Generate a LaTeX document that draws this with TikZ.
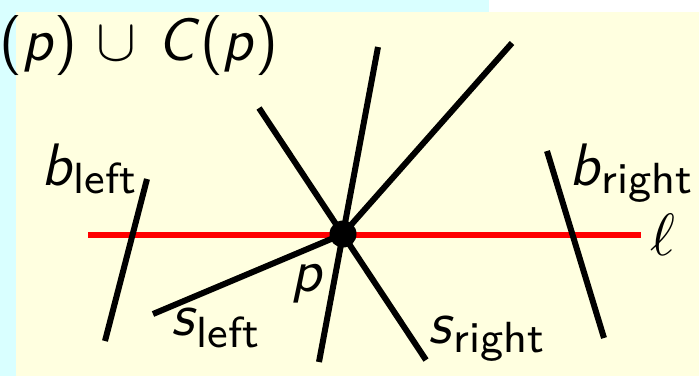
\documentclass[tikz,border=0pt]{standalone}
\usepackage{graphicx}
\usepackage{fontspec}
\definecolor{bgcyan}{RGB}{217,255,255}
\definecolor{bgyellow}{RGB}{255,255,224}
\definecolor{lred}{RGB}{255,0,0}
\newcommand\scl[1]{\scalebox{5.45}{#1}}
\newcommand\mainf{\fontsize{11}{13}\selectfont\sffamily}
\newcommand\subf{\fontsize{8}{9}\selectfont\sffamily\upshape}
\newcommand\subtxt[2]{\raisebox{-#1pt}{\subf #2}}
\tikzset{
  lbl/.style={inner sep=0pt, anchor=base west},
  seg/.style={line width=6pt, line cap=butt, black},
}
\begin{document}
\begin{tikzpicture}[x=1pt,y=-1pt]
\useasboundingbox (0,0) rectangle (699,376);
\fill[bgcyan] (0,0) rectangle (489,12);
\fill[white] (489,0) rectangle (699,12);
\fill[bgcyan] (0,12) rectangle (16,376);
\fill[bgyellow] (16,12) rectangle (699,376);
% coordinates
\coordinate (p) at (343,234);
\coordinate (la) at (88,235);
\coordinate (lb) at (641,235);
\coordinate (a1) at (259,108);
\coordinate (a2) at (426,360);
\coordinate (b1) at (378,47);
\coordinate (b2) at (319,362);
\coordinate (c1) at (512,43);
\coordinate (sl) at (153,314);
\coordinate (bl1) at (147,179);
\coordinate (bl2) at (105,341);
\coordinate (br1) at (547,151);
\coordinate (br2) at (604,338);
% red line
\draw[line width=6pt, lred] (la) -- (lb);
% lines
\draw[seg] (a1) -- (a2);
\draw[seg] (b1) -- (b2);
\draw[seg] (c1) -- (p);
\draw[seg] (p) -- (sl);
\draw[seg] (bl1) -- (bl2);
\draw[seg] (br1) -- (br2);
\fill[black] (p) circle (13.5pt);
% labels
\node[lbl] (title) at (-1,60) {\scl{\mainf(\textit{p})\hspace{0.32em}$\cup$\hspace{0.36em}\textit{C}(\textit{p})}};
\node[lbl] (tbl) at (41,185) {\scl{\mainf\textit{b}\subtxt{1.5}{left}}};
\node[lbl] (tsl) at (171,335) {\scl{\mainf\textit{s}\subtxt{2.2}{left}}};
\node[lbl] (tsr) at (428,343) {\scl{\mainf\textit{s}\subtxt{1.65}{right}}};
\node[lbl] (tbr) at (569,185) {\scl{\mainf\textit{b}\subtxt{1.5}{right}}};
\node[lbl] (tp) at (291,291) {\scl{\mainf\textit{p}}};
\node[inner sep=0pt] (tell) at (663,235) {\scl{\mainf$\ell$}};
\end{tikzpicture}
\end{document}
